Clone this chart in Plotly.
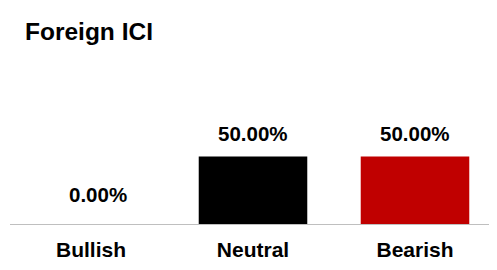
import plotly.graph_objects as go

categories = ["Bullish", "Neutral", "Bearish"]
values = [0.0, 0.5, 0.5]
labels = ["0.00%", "50.00%", "50.00%"]
colors = ["#000000", "#000000", "#C00000"]

FONT = "Liberation Sans, Arial, sans-serif"

# page has an 8px body margin, so the figure is drawn 8px smaller
W, H = 489, 262

fig = go.Figure()
fig.add_trace(go.Bar(
    x=categories, y=values, marker=dict(color=colors, line=dict(width=0)),
    width=0.67, hoverinfo="skip",
))

for c, v, t in zip(categories, values, labels):
    fig.add_annotation(
        x=c, y=v, xref="x", yref="y", text="<b>%s</b>" % t, showarrow=False,
        yanchor="middle", yshift=(30 if v == 0 else 23.5),
        xshift=(7 if v == 0 else 0),
        font=dict(family=FONT, size=20.5, color="#000000"),
    )

fig.update_layout(
    width=W, height=H,
    margin=dict(l=2, r=1, t=52, b=46, autoexpand=False),
    paper_bgcolor="white", plot_bgcolor="white",
    showlegend=False,
    title=dict(
        text="<b>Foreign ICI</b>", x=17 / W, y=1 - 23.5 / H,
        xref="container", yref="container", xanchor="left", yanchor="middle",
        font=dict(family=FONT, size=24.5, color="#000000"),
    ),
    xaxis=dict(
        showline=True, linecolor="#BFBFBF", linewidth=1, automargin=False,
        ticks="outside", ticklen=7, tickcolor="rgba(0,0,0,0)",
        tickfont=dict(family=FONT, size=21, color="#000000", weight="bold"),
        showgrid=False, zeroline=False, fixedrange=True,
    ),
    yaxis=dict(
        range=[0, 1.215], visible=False, showgrid=False, zeroline=False,
        fixedrange=True, automargin=False,
    ),
)

fig.write_html("out.html")
